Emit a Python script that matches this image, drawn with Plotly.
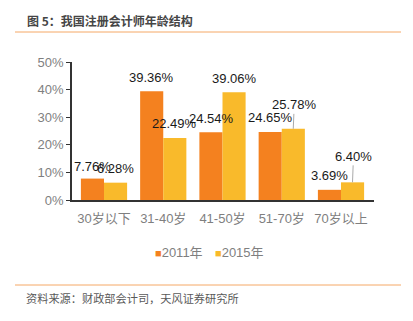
import plotly.graph_objects as go

categories = ["30岁以下", "31-40岁", "41-50岁", "51-70岁", "70岁以上"]
series_names = ["2011年", "2015年"]
values_2011 = [7.76, 39.36, 24.54, 24.65, 3.69]
values_2015 = [6.28, 22.49, 39.06, 25.78, 6.40]
y_ticks = [0, 10, 20, 30, 40, 50]
y_ticklabels = ["0%", "10%", "20%", "30%", "40%", "50%"]

ORANGE = "#F4811F"
YELLOW = "#F9BA2B"
FONT = "Liberation Sans, Arial, Noto Sans CJK SC, sans-serif"

fig = go.Figure()
fig.add_trace(go.Bar(x=categories, y=values_2011, name=series_names[0], showlegend=False,
                     marker=dict(color=ORANGE, line=dict(width=0))))
fig.add_trace(go.Bar(x=categories, y=values_2015, name=series_names[1], showlegend=False,
                     marker=dict(color=YELLOW, line=dict(width=0))))
for nm, col, lg in zip(series_names, [ORANGE, YELLOW], ["legend", "legend2"]):
    label = f"<span style='color:{col};font-size:11px'>■</span>{nm}"
    fig.add_trace(go.Scatter(x=[None], y=[None], mode="markers", name=label, legend=lg,
                             marker=dict(symbol="square", size=1, color="rgba(0,0,0,0)")))

W, H = 413, 321
L, R, T, B = 72, 39, 62, 121
pw = W - L - R
ph = H - T - B

def px_x(px):
    return (px - L) / pw

def px_y(py):
    return (H - B - py) / ph

annotations = []
half = 11.5
arrowed = {(1, 3): 24, (1, 4): 26}
for si, vals in enumerate([values_2011, values_2015]):
    xs = -half if si == 0 else half
    for ci, v in enumerate(vals):
        txt = f"{v:.2f}%"
        if (si, ci) in arrowed:
            annotations.append(dict(x=categories[ci], y=v, xref="x", yref="y",
                                    text=txt, showarrow=True, ax=1, ay=-arrowed[(si, ci)],
                                    arrowhead=0, arrowwidth=1, arrowcolor="#aaaaaa",
                                    standoff=0, xshift=xs,
                                    font=dict(family=FONT, size=13, color="#1a1a1a")))
        else:
            ys = 14
            if si == 0 and ci == 0:
                ys = 12
            annotations.append(dict(x=categories[ci], y=v, xref="x", yref="y",
                                    text=txt, showarrow=False, xshift=xs, yshift=ys,
                                    yanchor="middle", xanchor="center",
                                    font=dict(family=FONT, size=13, color="#1a1a1a")))

annotations.append(dict(x=px_x(25), y=px_y(20), xref="paper", yref="paper",
                        text="<b>图 5：我国注册会计师年龄结构</b>", showarrow=False,
                        xanchor="left", yanchor="middle",
                        font=dict(family="Noto Sans CJK SC", size=12, color="#454545")))
annotations.append(dict(x=px_x(24), y=px_y(298), xref="paper", yref="paper",
                        text="资料来源：财政部会计司，天风证券研究所", showarrow=False,
                        xanchor="left", yanchor="middle",
                        font=dict(family="Noto Sans CJK SC", size=11.2, color="#595959")))

shapes = [
    dict(type="line", xref="paper", yref="paper", x0=px_x(15), x1=px_x(401),
         y0=px_y(32), y1=px_y(32), line=dict(color="#F5A866", width=1)),
    dict(type="line", xref="paper", yref="paper", x0=px_x(15), x1=px_x(401),
         y0=px_y(285), y1=px_y(285), line=dict(color="#F5A866", width=1)),
]

legend_common = dict(orientation="h", yanchor="middle", xanchor="left",
                     font=dict(family=FONT, size=13, color="#7f7f7f"),
                     itemwidth=30, bgcolor="rgba(0,0,0,0)")

fig.update_layout(
    width=W, height=H,
    margin=dict(l=L, r=R, t=T, b=B, pad=0),
    paper_bgcolor="white", plot_bgcolor="white",
    barmode="group", bargap=0.22, bargroupgap=0,
    font=dict(family=FONT, size=13, color="#7f7f7f"),
    showlegend=True,
    legend=dict(x=px_x(115), y=px_y(252), **legend_common),
    legend2=dict(x=px_x(175), y=px_y(252), **legend_common),
    annotations=annotations,
    shapes=shapes,
)
fig.update_xaxes(showline=True, linecolor="#333333", linewidth=1.5, ticks="",
                 showgrid=False, tickfont=dict(family=FONT, size=13, color="#7f7f7f"),
                 ticklabelstandoff=6)
fig.update_yaxes(range=[0, 50], tickvals=y_ticks, ticktext=y_ticklabels,
                 showline=True, linecolor="#333333", linewidth=1.5, ticks="outside",
                 ticklen=4, tickcolor="#333333", showgrid=False, zeroline=False,
                 tickfont=dict(family=FONT, size=13, color="#7f7f7f"))

fig.write_html("out.html")
